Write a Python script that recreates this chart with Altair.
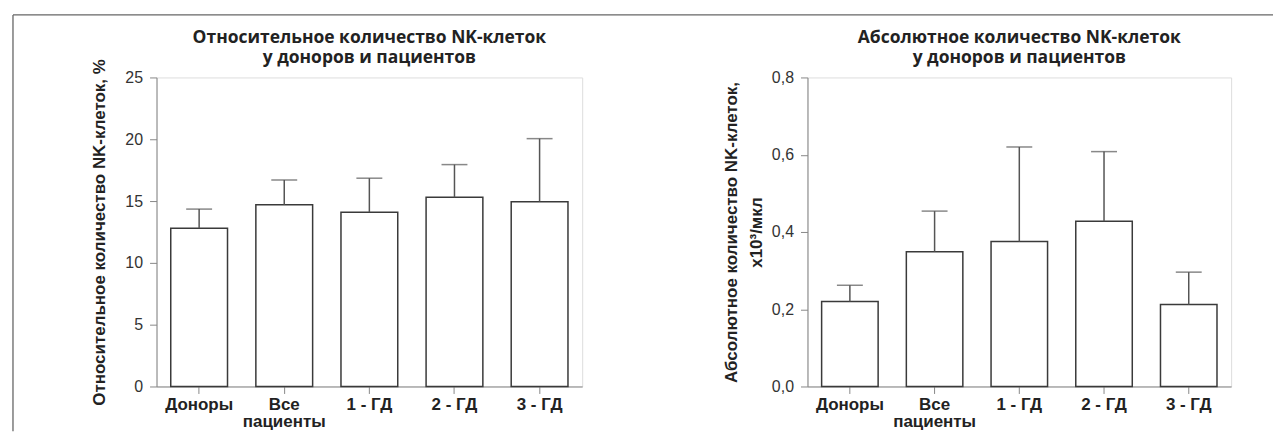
import altair as alt
import pandas as pd

cats = ["Доноры", "Все пациенты", "1 - ГД", "2 - ГД", "3 - ГД"]
rel_mean = [12.8, 14.7, 14.1, 15.3, 14.95]
rel_upper = [14.35, 16.7, 16.85, 17.95, 20.05]
abs_mean = [0.22, 0.349, 0.375, 0.428, 0.212]
abs_upper = [0.262, 0.454, 0.62, 0.608, 0.296]

rel_ticks = [0, 5, 10, 15, 20, 25]
abs_ticks = [0.0, 0.2, 0.4, 0.6, 0.8]

FONT = "Open Sans"
label_expr_x = "datum.label == 'Все пациенты' ? ['Все', 'пациенты'] : datum.label"

one = alt.Chart(pd.DataFrame({"a": [0]}))


def panel(mean, upper, ymax, yvals, ytitle, title, ylabel_expr, title_x, width):
    df = pd.DataFrame({"cat": cats, "mean": mean, "upper": upper})
    base = alt.Chart(df)
    x = alt.X(
        "cat:N",
        sort=cats,
        scale=alt.Scale(paddingInner=0.333, paddingOuter=0.167),
        axis=alt.Axis(
            title=None,
            labelAngle=0,
            labelExpr=label_expr_x,
            labelFontWeight="bold",
            labelFontSize=17,
            labelLineHeight=17,
            labelPadding=3,
            labelBaseline="top",
            tickSize=7,
            labelColor="#222",
        ),
    )
    y = alt.Y(
        "mean:Q",
        scale=alt.Scale(domain=[0, ymax], nice=False, zero=True),
        axis=alt.Axis(
            values=yvals,
            labelExpr=ylabel_expr,
            labelFontSize=16,
            labelPadding=7,
            tickSize=7,
            grid=False,
            title=ytitle,
            titleFontSize=17,
            titleFontWeight="bold",
            titleColor="#222",
            titleBaseline="alphabetic",
            titleAlign="center",
            titleAngle=270,
            titleX=title_x,
            titleY=155,
            titleLineHeight=25,
            labelColor="#333",
        ),
    )
    bars = base.mark_bar(fill="white", stroke="#3a3a3a", strokeWidth=1.5).encode(x=x, y=y)
    rule = base.mark_rule(color="#555", strokeWidth=1.5).encode(
        x=alt.X("cat:N", sort=cats), y="mean:Q", y2="upper:Q"
    )
    cap = base.mark_tick(color="#555", thickness=1.5, size=26).encode(
        x=alt.X("cat:N", sort=cats), y="upper:Q"
    )
    ttl = one.mark_text(
        font=FONT, fontSize=17.5, fontWeight="bold", color="#222",
        align="center", baseline="alphabetic", lineHeight=20,
    ).encode(
        x=alt.value(width / 2), y=alt.value(-34.5), text=alt.value(title)
    )
    return alt.layer(bars, rule, cap, ttl).properties(width=width, height=310)


left = panel(
    rel_mean, rel_upper, 25, rel_ticks,
    "Относительное количество NK-клеток, %",
    ["Относительное количество NK-клеток", "у доноров и пациентов"],
    "datum.label", -52.5, 427,
)
right = panel(
    abs_mean, abs_upper, 0.8, abs_ticks,
    ["Абсолютное количество NK-клеток,", "x10³/мкл"],
    ["Абсолютное количество NK-клеток", "у доноров и пациентов"],
    "replace(format(datum.value, '.1f'), '.', ',')", -71.5, 425,
)

border_top = one.mark_rule(color="#666", strokeWidth=1.3).encode(
    x=alt.value(-144), x2=alt.value(1120), y=alt.value(-62.7)
)
border_left = one.mark_rule(color="#666", strokeWidth=1.3).encode(
    x=alt.value(-144), y=alt.value(-62.7), y2=alt.value(355)
)
left = alt.layer(left, border_top, border_left)

chart = (
    alt.hconcat(left, right, spacing=226, bounds="flush")
    .properties(padding={"left": 3, "top": 5, "right": 0, "bottom": 0})
    .configure_view(stroke=None)
    .configure_axis(
        labelFont=FONT,
        titleFont=FONT,
        domainColor="#555",
        tickColor="#555",
        domainWidth=1.3,
        tickWidth=1.3,
    )
    .configure(background="white")
)

chart.save("out.html", embed_options={"renderer": "svg", "actions": False})
